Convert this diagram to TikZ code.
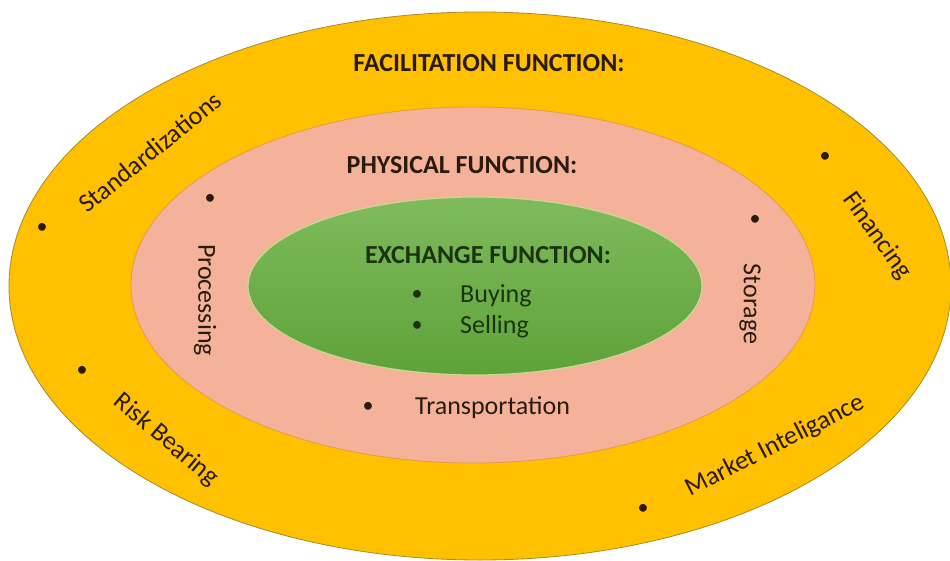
\documentclass[tikz,border=0pt]{standalone}
\usepackage{fontspec}
\setmainfont{Carlito}
\usepackage{xcolor}
\definecolor{goldfill}{HTML}{FFC000}
\definecolor{goldedge}{HTML}{A88A2A}
\definecolor{pinkfill}{HTML}{F5B29B}
\definecolor{pinkedge}{HTML}{E39A4E}
\definecolor{greentop}{HTML}{7FBB5C}
\definecolor{greenbot}{HTML}{5EA23A}
\definecolor{greenedge}{HTML}{C9D98E}
\definecolor{darktext}{HTML}{2A1A10}
\definecolor{greentext}{HTML}{1C3310}

\begin{document}
\begin{tikzpicture}[x=1pt,y=1pt,
	title/.style={font=\fontsize{26}{28}\selectfont\bfseries, text=darktext, inner sep=0pt},
	item/.style={font=\fontsize{26}{28}\selectfont, text=darktext, inner sep=0pt},
	bul/.style={font=\fontsize{22}{24}\selectfont, text=darktext, inner sep=0pt}]
	\useasboundingbox (0,0) rectangle (950,-561);
	% the three rings
	\draw[goldedge, fill=goldfill, line width=0.8] (480,-286) ellipse [x radius=471, y radius=274];
	\draw[pinkedge, fill=pinkfill, line width=0.8] (473,-285) ellipse [x radius=342, y radius=178];
	\draw[greenedge, top color=greentop, bottom color=greenbot, line width=1.2] (475,-286) ellipse [x radius=227, y radius=89];
	% titles
	\node[title] (facil) at (489,-63) {FACILITATION FUNCTION:};
	\node[title] (phys) at (462,-165) {PHYSICAL FUNCTION:};
	\node[title, text=greentext] (exch) at (488,-255) {EXCHANGE FUNCTION:};
	% exchange items
	\node[bul, text=greentext] (b-buy) at (417,-295) {•};
	\node[item, text=greentext, anchor=west] (buy) at (460,-296) {Buying};
	\node[bul, text=greentext] (b-sell) at (417,-326) {•};
	\node[item, text=greentext, anchor=west] (sell) at (460,-327) {Selling};
	% physical items
	\node[bul] (b-trans) at (368,-407) {•};
	\node[item, anchor=west] (trans) at (415,-408) {Transportation};
	\node[bul] (b-proc) at (210,-199) {•};
	\node[item, rotate=-90] (proc) at (205,-300) {Processing};
	\node[bul] (b-stor) at (755,-220) {•};
	\node[item, rotate=-90] (stor) at (750,-304) {Storage};
	% facilitation items
	\node[bul] (b-std) at (42,-228) {•};
	\node[item, rotate=39] (std) at (150,-152) {Standardizations};
	\node[bul] (b-fin) at (825,-157) {•};
	\node[item, rotate=-54] (fin) at (877,-236) {Financing};
	\node[bul] (b-risk) at (82,-371) {•};
	\node[item, rotate=-40] (risk) at (166,-440) {Risk Bearing};
	\node[bul] (b-mkt) at (643,-509) {•};
	\node[item, rotate=27] (mkt) at (775,-446) {Market Inteligance};
\end{tikzpicture}
\end{document}
